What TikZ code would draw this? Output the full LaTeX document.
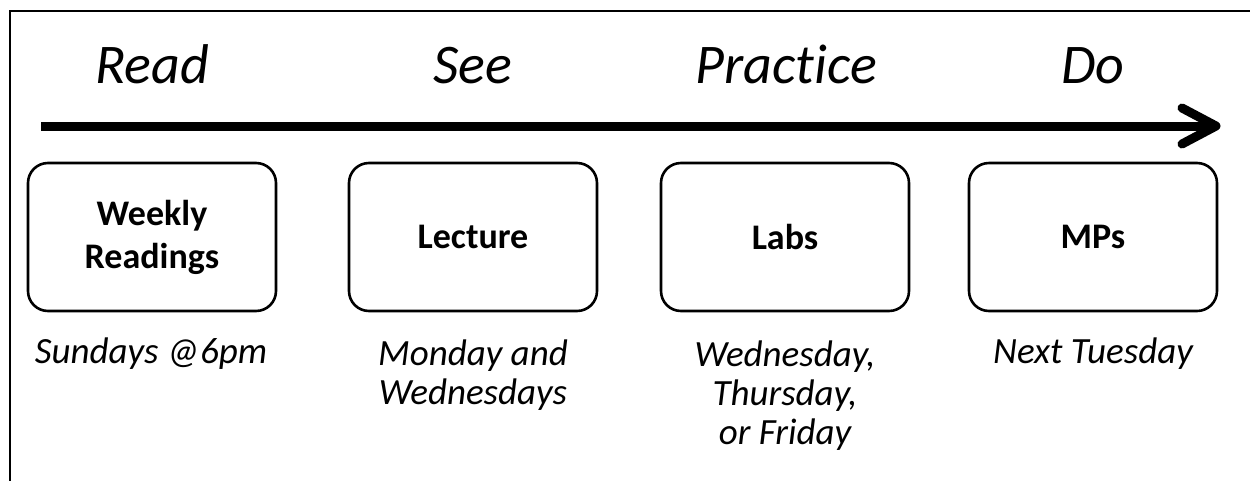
\documentclass[tikz,border=0pt]{standalone}
\usepackage{fontspec}
\setmainfont{Carlito}[Ligatures={NoCommon}]
\begin{document}
\begin{tikzpicture}[x=1pt,y=-1pt,
  phase/.style={font=\fontsize{56}{60}\selectfont\itshape, anchor=base},
  stagebox/.style={draw, line width=2.6pt, rounded corners=20pt, minimum width=248pt, minimum height=148pt, align=center, font=\fontsize{36}{43}\selectfont\bfseries},
  when/.style={font=\fontsize{37}{39}\selectfont\itshape, anchor=base, align=center}]
\useasboundingbox (0,0) rectangle (1250,480);
\draw[line width=2.5pt] (10,490) -- (10,11) -- (1260,11);
% timeline arrow
\coordinate (as) at (41,126);
\coordinate (ae) at (1216,126);
\draw[line width=9pt] (as) -- ([xshift=-6pt]ae);
\draw[line width=9pt, line cap=round, line join=round] (1182,108) -- (ae) -- (1182,144);
% phases
\node[phase] (read) at (152,83) {Read};
\node[phase] (see) at (473,83) {See};
\node[phase] (practice) at (786,83) {Practice};
\node[phase] (do) at (1093,83) {Do};
% boxes
\node[stagebox] (b1) at (152,237) {Weekly\\Readings};
\node[stagebox] (b2) at (473,237) {Lecture};
\node[stagebox] (b3) at (785,237) {Labs};
\node[stagebox] (b4) at (1093,237) {MPs};
% when
\node[when] (w1) at (151,363) {Sundays @6pm};
\node[when] (w2) at (473,404) {Monday and\\Wednesdays};
\node[when] (w3) at (785,444) {Wednesday,\\Thursday,\\or Friday};
\node[when] (w4) at (1093,363) {Next Tuesday};
\end{tikzpicture}
\end{document}
